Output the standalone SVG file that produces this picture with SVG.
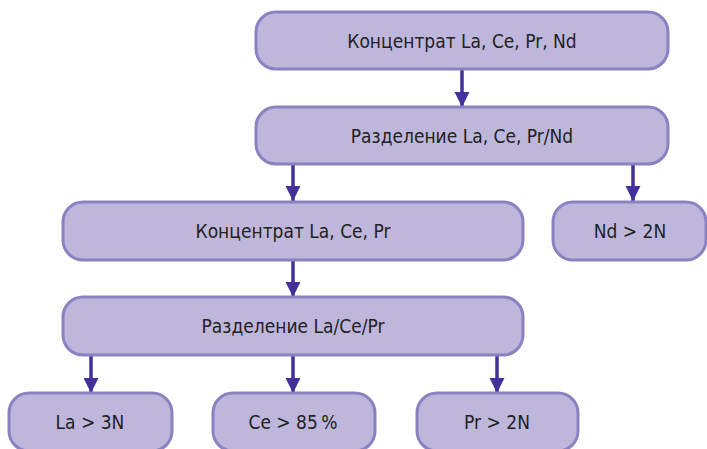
<svg xmlns="http://www.w3.org/2000/svg" width="707" height="449" viewBox="0 0 707 449">
  <defs>
    <style>
      .box { fill: #beb7db; stroke: #8b82c2; stroke-width: 3; }
      .lbl { font-family: "DejaVu Sans Condensed", "Liberation Sans", sans-serif; font-size: 19px; fill: #222222; text-anchor: middle; dominant-baseline: central; }
      .link { stroke: #43309a; stroke-width: 3.5; fill: none; marker-end: url(#head); }
    </style>
    <marker id="head" viewBox="0 0 10 10" refX="10" refY="5" markerUnits="userSpaceOnUse" markerWidth="15" markerHeight="20" orient="auto">
      <path d="M0,0 L10,5 L0,10 z" fill="#43309a"/>
    </marker>
  </defs>
  <rect width="707" height="449" fill="#ffffff"/>

  <g id="connectors">
    <line class="link" x1="462" y1="70" x2="462" y2="107"/>
    <line class="link" x1="293" y1="164" x2="293" y2="201"/>
    <line class="link" x1="633" y1="164" x2="633" y2="201"/>
    <line class="link" x1="293" y1="261" x2="293" y2="297"/>
    <line class="link" x1="91" y1="356" x2="91" y2="393"/>
    <line class="link" x1="293" y1="356" x2="293" y2="393"/>
    <line class="link" x1="497" y1="356" x2="497" y2="393"/>
  </g>

  <g id="n-concentrate-all">
    <rect class="box" x="256" y="12" width="412" height="57" rx="20"/>
    <text class="lbl" x="462" y="41">Концентрат La, Ce, Pr, Nd</text>
  </g>
  <g id="n-separation-nd">
    <rect class="box" x="256" y="107" width="412" height="57" rx="20"/>
    <text class="lbl" x="462" y="136">Разделение La, Ce, Pr/Nd</text>
  </g>
  <g id="n-concentrate-lacepr">
    <rect class="box" x="63" y="202" width="460" height="58" rx="20"/>
    <text class="lbl" x="293" y="231">Концентрат La, Ce, Pr</text>
  </g>
  <g id="n-nd">
    <rect class="box" x="553" y="202" width="153" height="58" rx="20"/>
    <text class="lbl" x="630" y="231">Nd &gt; 2N</text>
  </g>
  <g id="n-separation-lacepr">
    <rect class="box" x="63" y="297" width="460" height="58" rx="20"/>
    <text class="lbl" x="293" y="326">Разделение La/Ce/Pr</text>
  </g>
  <g id="n-la">
    <rect class="box" x="9" y="393" width="163" height="58" rx="20"/>
    <text class="lbl" x="90" y="422">La &gt; 3N</text>
  </g>
  <g id="n-ce">
    <rect class="box" x="213" y="393" width="162" height="58" rx="20"/>
    <text class="lbl" x="293" y="422">Ce &gt; 85&#8239;%</text>
  </g>
  <g id="n-pr">
    <rect class="box" x="417" y="393" width="161" height="58" rx="20"/>
    <text class="lbl" x="497" y="422">Pr &gt; 2N</text>
  </g>
</svg>
